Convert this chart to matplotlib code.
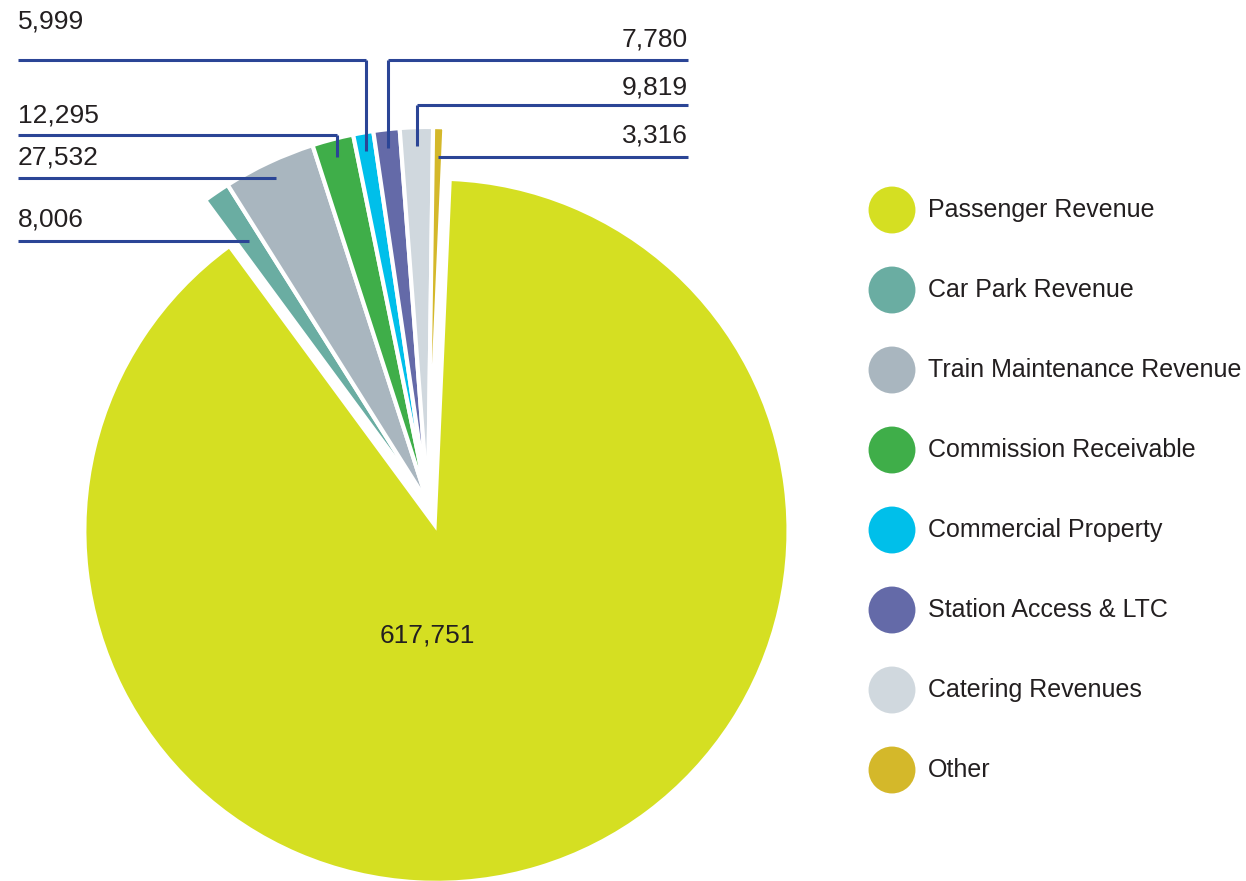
import numpy as np
import matplotlib
matplotlib.use("Agg")
import matplotlib.pyplot as plt

plt.rcParams['font.family'] = ['Liberation Sans', 'DejaVu Sans']

# revenue breakdown
categories = ["Passenger Revenue", "Car Park Revenue", "Train Maintenance Revenue",
              "Commission Receivable", "Commercial Property", "Station Access & LTC",
              "Catering Revenues", "Other"]
values = [617751, 8006, 27532, 12295, 5999, 7780, 9819, 3316]
colors = ["#D5DF22", "#6AADA2", "#A9B6BF", "#3FAE49", "#00BFEA", "#646AA8",
          "#D0D8DE", "#D4B82A"]

W, H = 1246, 881
fig = plt.figure(figsize=(W / 100, H / 100), dpi=100)
ax = fig.add_axes([0, 0, 1, 1])

cx, cy = 428, H - 503
r_small = 376
r_big = 350
start = 87.5

wedges, _ = ax.pie(values, colors=colors, startangle=start, counterclock=False,
                   center=(cx, cy), radius=r_small,
                   wedgeprops=dict(edgecolor="white", linewidth=3))

# pull the big slice away from the small ones
big = wedges[0]
a = np.deg2rad((big.theta1 + big.theta2) / 2)
big.set_center((cx + 29 * np.cos(a), cy + 29 * np.sin(a)))
big.set_radius(r_big)
big.set_linewidth(0)

ax.set_xlim(0, W)
ax.set_ylim(0, H)
ax.set_aspect("equal")
ax.axis("off")

line_c = "#2B4596"
txt_c = "#231F20"
fs = 19


def mid_point(w, frac):
    a = np.deg2rad((w.theta1 + w.theta2) / 2)
    x0, y0 = w.center
    return x0 + frac * w.r * np.cos(a), y0 + frac * w.r * np.sin(a)


def ray_x_at(w, y):
    a = np.deg2rad((w.theta1 + w.theta2) / 2)
    x0, y0 = w.center
    t = (y - y0) / np.sin(a)
    return x0 + t * np.cos(a)


# label layout: (index, side, text y, line y, kind)
layout = [
    (1, "left", 220, 241, "flat"),
    (2, "left", 157, 178, "flat"),
    (3, "left", 116, 135, "elbow"),
    (4, "left", 22, 60, "elbow"),
    (5, "right", 40, 60, "elbow"),
    (6, "right", 88, 105, "elbow"),
    (7, "right", 136, 157, "flat"),
]

for i, side, ty, ly, kind in layout:
    w = wedges[i]
    yl = H - ly
    if kind == "elbow":
        px, py = mid_point(w, 0.95)
        xs_end = px
    else:
        xs_end = ray_x_at(w, yl)
    if side == "left":
        xs = [18, xs_end]
        tx, ha = 18, "left"
    else:
        xs = [688, xs_end]
        tx, ha = 688, "right"
    ax.plot(xs, [yl, yl], color=line_c, lw=2.2, solid_capstyle="butt")
    if kind == "elbow":
        ax.plot([xs_end, xs_end], [yl, py], color=line_c, lw=2.2, solid_capstyle="butt")
    ax.text(tx, H - ty, f"{values[i]:,}", ha=ha, va="center", fontsize=fs, color=txt_c)

ax.text(427, H - 636, f"{values[0]:,}", ha="center", va="center", fontsize=fs, color=txt_c)

# legend
for k, (name, c) in enumerate(zip(categories, colors)):
    yy = H - (210 + 80 * k)
    ax.scatter([892], [yy], s=1140, color=c, edgecolors="none", clip_on=False)
    ax.text(928, yy, name, ha="left", va="center", fontsize=18, color=txt_c)

fig.savefig("out.png", dpi=100)
